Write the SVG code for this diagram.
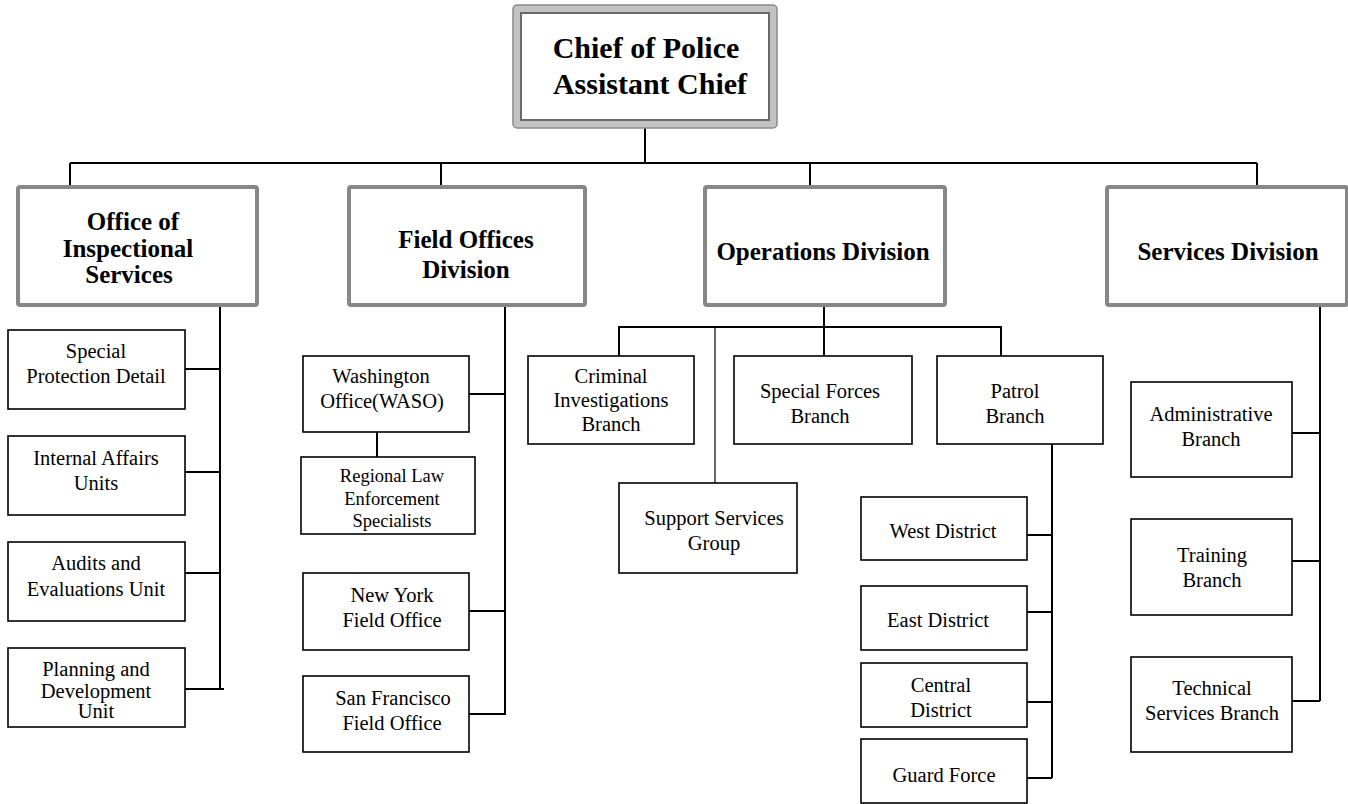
<svg xmlns="http://www.w3.org/2000/svg" width="1348" height="804" viewBox="0 0 1348 804">
  <style>
    .bg { fill: #ffffff; }
    .unit { fill: #ffffff; stroke: #000000; stroke-width: 1.6; }
    .div { fill: #ffffff; stroke: #878787; stroke-width: 4; }
    .chief-outer { fill: #c2c2c2; stroke: #8a8a8a; stroke-width: 1.5; }
    .chief-inner { fill: #ffffff; stroke: #6a6a6a; stroke-width: 2; }
    .link { fill: none; stroke: #000000; stroke-width: 2; }
    .thin { fill: none; stroke: #000000; stroke-width: 1.2; }
    text { font-family: "Liberation Serif", "Times New Roman", serif; fill: #000000; text-anchor: middle; }
    .t-chief { font-size: 30px; font-weight: bold; }
    .t-div { font-size: 25px; font-weight: bold; }
    .t-unit { font-size: 20.5px; }
    .t-small { font-size: 18.5px; }
  </style>

  <rect class="bg" x="0" y="0" width="1348" height="804"/>

  <!-- connectors -->
  <g id="connectors">
    <!-- chief to divisions -->
    <path class="link" d="M645,128 V163 M70,163 H1257 M70,163 V187 M441,163 V187 M810,163 V187 M1257,163 V187"/>
    <!-- inspectional services -->
    <path class="link" d="M220,305 V689 M185,369 H220 M185,472 H220 M185,573 H220 M185,689 H224"/>
    <!-- field offices -->
    <path class="link" d="M505,305 V715 M469,394 H505 M469,611 H505 M469,714 H505 M377,432 V457"/>
    <!-- operations -->
    <path class="link" d="M824,305 V356 M618,327 H1002 M619,327 V356 M1001,327 V356"/>
    <path class="thin" d="M715,327 V483"/>
    <!-- patrol districts -->
    <path class="link" d="M1052,444 V778 M1027,535 H1052 M1027,612 H1052 M1027,702 H1052 M1027,778 H1052"/>
    <!-- services -->
    <path class="link" d="M1320,305 V701 M1292,433 H1320 M1292,561 H1320 M1292,701 H1320"/>
  </g>

  <!-- top -->
  <g id="chief">
    <rect class="chief-outer" x="513" y="5" width="264" height="123" rx="4"/>
    <rect class="chief-inner" x="521" y="13" width="248" height="107"/>
    <text class="t-chief" x="646" y="58">Chief of Police</text>
    <text class="t-chief" x="650" y="94">Assistant Chief</text>
  </g>

  <!-- divisions -->
  <g id="inspectional">
    <rect class="div" x="18" y="187" width="239" height="118" rx="2"/>
    <text class="t-div" x="133" y="230">Office of</text>
    <text class="t-div" x="128" y="257">Inspectional</text>
    <text class="t-div" x="129" y="283">Services</text>
  </g>
  <g id="field-offices">
    <rect class="div" x="349" y="187" width="236" height="118" rx="2"/>
    <text class="t-div" x="466" y="248">Field Offices</text>
    <text class="t-div" x="466" y="278">Division</text>
  </g>
  <g id="operations">
    <rect class="div" x="705" y="187" width="240" height="118" rx="2"/>
    <text class="t-div" x="823" y="260">Operations Division</text>
  </g>
  <g id="services">
    <rect class="div" x="1107" y="187" width="240" height="118" rx="2"/>
    <text class="t-div" x="1228" y="260">Services Division</text>
  </g>

  <!-- inspectional services units -->
  <g id="special-protection">
    <rect class="unit" x="8" y="330" width="177" height="79"/>
    <text class="t-unit" x="96" y="358">Special</text>
    <text class="t-unit" x="96" y="383">Protection Detail</text>
  </g>
  <g id="internal-affairs">
    <rect class="unit" x="8" y="436" width="177" height="79"/>
    <text class="t-unit" x="96" y="465">Internal Affairs</text>
    <text class="t-unit" x="96" y="490">Units</text>
  </g>
  <g id="audits">
    <rect class="unit" x="8" y="542" width="177" height="79"/>
    <text class="t-unit" x="96" y="570">Audits and</text>
    <text class="t-unit" x="96" y="596">Evaluations Unit</text>
  </g>
  <g id="planning">
    <rect class="unit" x="8" y="648" width="177" height="79"/>
    <text class="t-unit" x="96" y="676">Planning and</text>
    <text class="t-unit" x="96" y="698">Development</text>
    <text class="t-unit" x="96" y="718">Unit</text>
  </g>

  <!-- field offices units -->
  <g id="waso">
    <rect class="unit" x="303" y="356" width="166" height="76"/>
    <text class="t-unit" x="381" y="383">Washington</text>
    <text class="t-unit" x="382" y="408">Office(WASO)</text>
  </g>
  <g id="regional-specialists">
    <rect class="unit" x="301" y="457" width="174" height="77"/>
    <text class="t-small" x="392" y="482">Regional Law</text>
    <text class="t-small" x="392" y="505">Enforcement</text>
    <text class="t-small" x="392" y="527">Specialists</text>
  </g>
  <g id="new-york">
    <rect class="unit" x="303" y="573" width="166" height="77"/>
    <text class="t-unit" x="392" y="602">New York</text>
    <text class="t-unit" x="392" y="627">Field Office</text>
  </g>
  <g id="san-francisco">
    <rect class="unit" x="303" y="676" width="166" height="76"/>
    <text class="t-unit" x="393" y="705">San Francisco</text>
    <text class="t-unit" x="392" y="730">Field Office</text>
  </g>

  <!-- operations units -->
  <g id="criminal-investigations">
    <rect class="unit" x="528" y="356" width="166" height="88"/>
    <text class="t-unit" x="611" y="383">Criminal</text>
    <text class="t-unit" x="611" y="407">Investigations</text>
    <text class="t-unit" x="611" y="431">Branch</text>
  </g>
  <g id="special-forces">
    <rect class="unit" x="734" y="356" width="178" height="88"/>
    <text class="t-unit" x="820" y="398">Special Forces</text>
    <text class="t-unit" x="820" y="423">Branch</text>
  </g>
  <g id="patrol">
    <rect class="unit" x="937" y="356" width="166" height="88"/>
    <text class="t-unit" x="1015" y="398">Patrol</text>
    <text class="t-unit" x="1015" y="423">Branch</text>
  </g>
  <g id="support-services">
    <rect class="unit" x="619" y="483" width="178" height="90"/>
    <text class="t-unit" x="714" y="525">Support Services</text>
    <text class="t-unit" x="714" y="550">Group</text>
  </g>
  <g id="west-district">
    <rect class="unit" x="861" y="497" width="166" height="63"/>
    <text class="t-unit" x="943" y="538">West District</text>
  </g>
  <g id="east-district">
    <rect class="unit" x="861" y="586" width="166" height="64"/>
    <text class="t-unit" x="938" y="627">East District</text>
  </g>
  <g id="central-district">
    <rect class="unit" x="861" y="663" width="166" height="64"/>
    <text class="t-unit" x="941" y="692">Central</text>
    <text class="t-unit" x="941" y="717">District</text>
  </g>
  <g id="guard-force">
    <rect class="unit" x="861" y="739" width="166" height="64"/>
    <text class="t-unit" x="944" y="782">Guard Force</text>
  </g>

  <!-- services units -->
  <g id="administrative">
    <rect class="unit" x="1131" y="382" width="161" height="95"/>
    <text class="t-unit" x="1211" y="421">Administrative</text>
    <text class="t-unit" x="1211" y="446">Branch</text>
  </g>
  <g id="training">
    <rect class="unit" x="1131" y="519" width="161" height="96"/>
    <text class="t-unit" x="1212" y="562">Training</text>
    <text class="t-unit" x="1212" y="587">Branch</text>
  </g>
  <g id="technical-services">
    <rect class="unit" x="1131" y="657" width="161" height="95"/>
    <text class="t-unit" x="1212" y="695">Technical</text>
    <text class="t-unit" x="1212" y="720">Services Branch</text>
  </g>
</svg>
